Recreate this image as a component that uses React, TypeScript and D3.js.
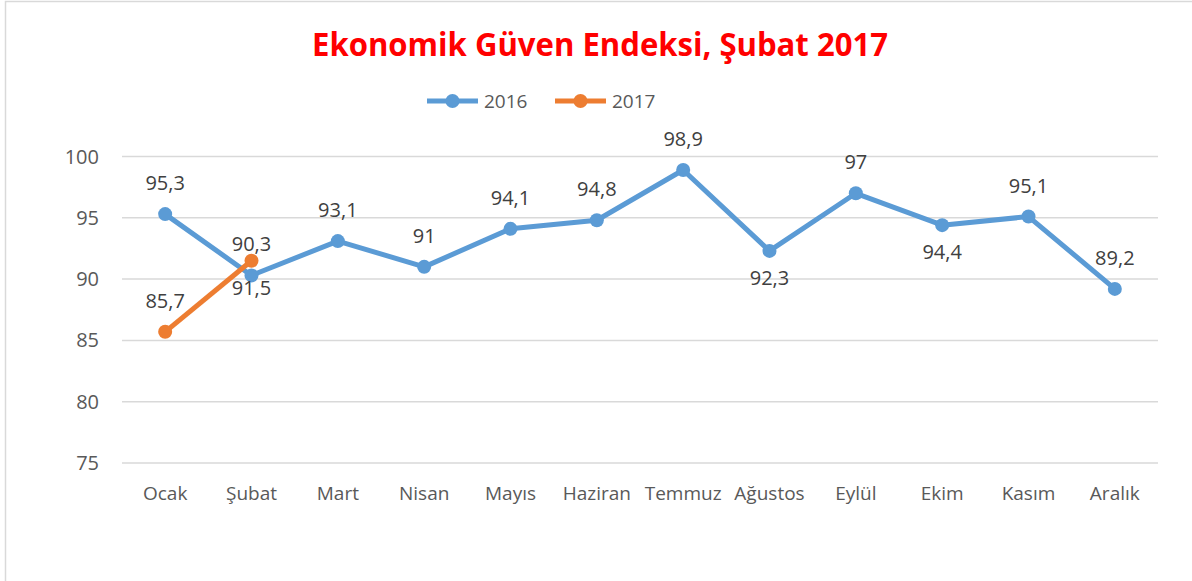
import React, { useEffect, useRef } from 'react';
import * as d3 from 'd3';

// Aylar ve seriler
const months = ['Ocak', 'Şubat', 'Mart', 'Nisan', 'Mayıs', 'Haziran', 'Temmuz', 'Ağustos', 'Eylül', 'Ekim', 'Kasım', 'Aralık'];
const values2016 = [95.3, 90.3, 93.1, 91, 94.1, 94.8, 98.9, 92.3, 97, 94.4, 95.1, 89.2];
const values2017 = [85.7, 91.5];
// etiket yerleşimi (grafikte görüldüğü gibi)
const labels2016 = ['95,3', '90,3', '93,1', '91', '94,1', '94,8', '98,9', '92,3', '97', '94,4', '95,1', '89,2'];
const place2016 = ['above', 'above', 'above', 'above', 'above', 'above', 'above', 'below', 'above', 'below', 'above', 'above'];
const labels2017 = ['85,7', '91,5'];
const place2017 = ['above', 'below'];
const yTicks = [75, 80, 85, 90, 95, 100];

const BLUE = '#5B9BD5';
const ORANGE = '#ED7D31';

const App = () => {
  const ref = useRef<SVGSVGElement>(null);

  useEffect(() => {
    const W = 1192;
    const H = 581;
    const svg = d3.select(ref.current).attr('width', W).attr('height', H);
    svg.selectAll('*').remove();

    // çerçeve
    svg.append('rect')
      .attr('x', 5.5).attr('y', 1.5)
      .attr('width', W + 10).attr('height', H + 10)
      .attr('fill', '#fff').attr('stroke', '#d9d9d9').attr('stroke-width', 1.5);

    const left = 122, right = 1158, top = 156.5, bottom = 463;

    const x = d3.scaleBand().domain(months).range([left, right]);
    const y = d3.scaleLinear().domain([75, 100]).range([bottom, top]);
    const cx = (i: number) => (x(months[i]) as number) + x.bandwidth() / 2;

    // başlık
    svg.append('text')
      .attr('x', 600).attr('y', 56)
      .attr('text-anchor', 'middle')
      .attr('font-family', 'Open Sans, sans-serif')
      .attr('font-weight', 'bold')
      .attr('font-size', 33)
      .attr('fill', '#FF0000')
      .attr('textLength', 576)
      .attr('lengthAdjust', 'spacingAndGlyphs')
      .text('Ekonomik Güven Endeksi, Şubat 2017');

    // ızgara
    svg.append('g')
      .selectAll('line')
      .data(yTicks)
      .enter()
      .append('line')
      .attr('x1', left).attr('x2', right)
      .attr('y1', d => y(d)).attr('y2', d => y(d))
      .attr('stroke', '#d9d9d9').attr('stroke-width', 1.5);

    svg.append('g')
      .selectAll('text')
      .data(yTicks)
      .enter()
      .append('text')
      .attr('x', 99).attr('y', d => y(d))
      .attr('dy', '0.35em')
      .attr('text-anchor', 'end')
      .attr('font-family', 'Open Sans, sans-serif')
      .attr('font-size', 20)
      .attr('fill', '#595959')
      .text(d => d);

    svg.append('g')
      .selectAll('text')
      .data(months)
      .enter()
      .append('text')
      .attr('x', (d, i) => cx(i)).attr('y', 500)
      .attr('text-anchor', 'middle')
      .attr('font-family', 'Open Sans, sans-serif')
      .attr('font-size', 19)
      .attr('fill', '#595959')
      .text(d => d);

    const line = d3.line<number>()
      .x((d, i) => cx(i))
      .y(d => y(d));

    const drawSeries = (vals: number[], color: string) => {
      svg.append('path')
        .datum(vals)
        .attr('fill', 'none')
        .attr('stroke', color)
        .attr('stroke-width', 5)
        .attr('stroke-linejoin', 'round')
        .attr('d', line);
      svg.append('g')
        .selectAll('circle')
        .data(vals)
        .enter()
        .append('circle')
        .attr('cx', (d, i) => cx(i))
        .attr('cy', d => y(d))
        .attr('r', 7)
        .attr('fill', color);
    };

    drawSeries(values2016, BLUE);
    drawSeries(values2017, ORANGE);

    const drawLabels = (vals: number[], labels: string[], place: string[]) => {
      svg.append('g')
        .selectAll('text')
        .data(vals)
        .enter()
        .append('text')
        .attr('x', (d, i) => cx(i))
        .attr('y', (d, i) => y(d) + (place[i] === 'above' ? -31 : 27))
        .attr('dy', '0.35em')
        .attr('text-anchor', 'middle')
        .attr('font-family', 'Open Sans, sans-serif')
        .attr('font-size', 20)
        .attr('fill', '#404040')
        .text((d, i) => labels[i]);
    };

    drawLabels(values2016, labels2016, place2016);
    drawLabels(values2017, labels2017, place2017);

    // lejant
    const legend = [
      { name: '2016', color: BLUE, x: 427 },
      { name: '2017', color: ORANGE, x: 555 },
    ];
    const lg = svg.append('g')
      .selectAll('g')
      .data(legend)
      .enter()
      .append('g')
      .attr('transform', d => `translate(${d.x},101)`);
    lg.append('line')
      .attr('x1', 0).attr('x2', 51)
      .attr('stroke', d => d.color).attr('stroke-width', 5);
    lg.append('circle')
      .attr('cx', 25.5).attr('r', 7)
      .attr('fill', d => d.color);
    lg.append('text')
      .attr('x', 57).attr('dy', '0.35em')
      .attr('font-family', 'Open Sans, sans-serif')
      .attr('font-size', 19)
      .attr('fill', '#595959')
      .text(d => d.name);
  }, []);

  return (
    <svg ref={ref} style={{ position: 'absolute', left: 0, top: 0, display: 'block' }}></svg>
  );
};

export default App;
